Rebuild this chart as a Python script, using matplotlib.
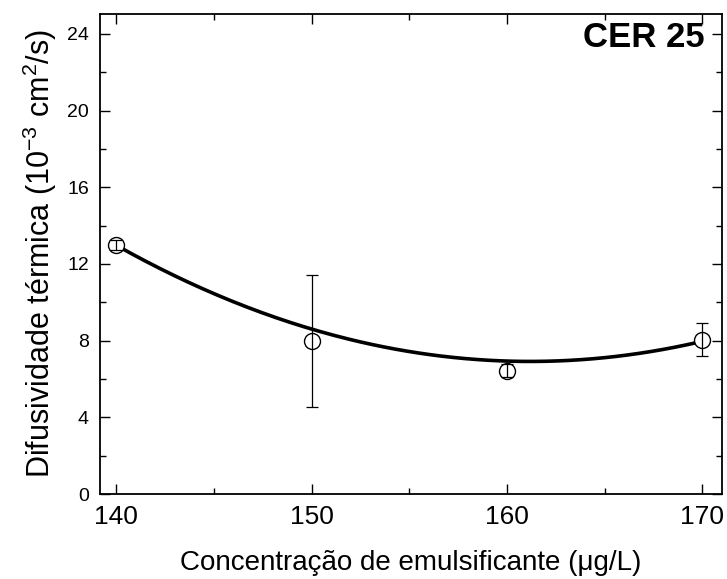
import numpy as np
import matplotlib
matplotlib.use("Agg")
import matplotlib.pyplot as plt
from matplotlib.ticker import MultipleLocator

plt.rcParams["font.family"] = ["Liberation Sans", "DejaVu Sans"]
plt.rcParams["mathtext.fontset"] = "custom"
plt.rcParams["mathtext.rm"] = "Liberation Sans"
plt.rcParams["mathtext.it"] = "Liberation Sans:italic"

# ── Data ──
conc = [140, 150, 160, 170]
difus = [13.0, 7.98, 6.43, 8.03]
err_lo = [0.25, 3.42, 0.33, 0.83]
err_hi = [0.25, 3.44, 0.33, 0.87]

# quadratic fit: y = c2*(x-155)^2 + c1*(x-155) + c0
FIT_COEF = [0.01352, -0.1671, 7.432]
FIT_X0 = 155
FIT_RANGE = (140, 169.6)

fig = plt.figure(figsize=(7.27, 5.79), dpi=100)
ax = fig.add_axes([0.1376, 0.1468, 0.9931 - 0.1376, 0.9758 - 0.1468])

xf = np.linspace(FIT_RANGE[0], FIT_RANGE[1], 200)
ax.plot(xf, np.polyval(FIT_COEF, xf - FIT_X0), color="black", lw=2.6, zorder=2)

# open circles first, error bars drawn on top (as in the original)
ax.plot(conc, difus, "o", ms=11.5, mfc="white", mec="black", mew=1.0, zorder=3)
ax.errorbar(conc, difus, yerr=[err_lo, err_hi], fmt="none", ecolor="black",
            elinewidth=0.9, capsize=4, capthick=0.9, zorder=4)

ax.set_xlim(139.18, 171.0)
ax.set_ylim(0, 25.04)
ax.xaxis.set_major_locator(MultipleLocator(10))
ax.xaxis.set_minor_locator(MultipleLocator(5))
ax.yaxis.set_major_locator(MultipleLocator(4))
ax.yaxis.set_minor_locator(MultipleLocator(2))
ax.tick_params(which="both", direction="in", top=True, right=True, width=1.0)
ax.tick_params(which="major", length=7)
ax.tick_params(which="minor", length=4)
ax.tick_params(axis="x", labelsize=19, pad=8)
ax.tick_params(axis="y", labelsize=14, pad=8)
for s in ax.spines.values():
    s.set_linewidth(1.3)

ax.set_xlabel("Concentração de emulsificante (μg/L)", fontsize=20, labelpad=15)
ax.set_ylabel("Difusividade térmica (10$^{-3}$ cm$^{2}$/s)", fontsize=22, labelpad=6)

ax.text(0.972, 0.985, "CER 25", transform=ax.transAxes, ha="right", va="top",
        fontsize=25, fontweight="bold")

fig.savefig("out.png", dpi=100)
